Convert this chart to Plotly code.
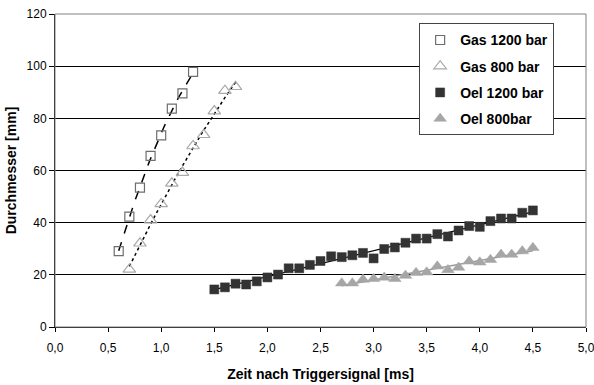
import numpy as np
import plotly.graph_objects as go

# ---- data ----
gas1200_x = [0.6, 0.7, 0.8, 0.9, 1.0, 1.1, 1.2, 1.3]
gas1200_y = [29.1, 42.3, 53.4, 65.6, 73.5, 83.7, 89.6, 97.8]

gas800_x = [0.7, 0.8, 0.9, 1.0, 1.1, 1.2, 1.3, 1.4, 1.5, 1.6, 1.7]
gas800_y = [22.1, 32.1, 41.0, 47.2, 55.1, 59.2, 69.4, 73.7, 82.8, 90.6, 92.1]

oel1200_x = [1.5, 1.6, 1.7, 1.8, 1.9, 2.0, 2.1, 2.2, 2.3, 2.4, 2.5, 2.6, 2.7, 2.8, 2.9, 3.0,
             3.1, 3.2, 3.3, 3.4, 3.5, 3.6, 3.7, 3.8, 3.9, 4.0, 4.1, 4.2, 4.3, 4.4, 4.5]
oel1200_y = [14.4, 15.2, 16.6, 16.3, 17.5, 19.0, 20.1, 22.5, 22.5, 23.8, 25.3, 27.1, 26.8, 27.5, 28.4, 26.3,
             29.9, 30.5, 32.3, 33.9, 33.9, 35.6, 34.7, 37.0, 38.7, 38.4, 40.6, 41.6, 41.6, 43.8, 44.7]

oel800_x = [2.7, 2.8, 2.9, 3.0, 3.1, 3.2, 3.3, 3.4, 3.5, 3.6, 3.7, 3.8, 3.9, 4.0, 4.1, 4.2, 4.3, 4.4, 4.5]
oel800_y = [16.8, 16.8, 18.2, 18.5, 19.0, 18.5, 19.7, 20.8, 21.0, 23.3, 21.9, 22.8, 25.2, 24.8, 25.8, 27.8,
            27.8, 29.1, 30.4]

x_ticks = [0.0, 0.5, 1.0, 1.5, 2.0, 2.5, 3.0, 3.5, 4.0, 4.5, 5.0]
x_ticklabels = ["0,0", "0,5", "1,0", "1,5", "2,0", "2,5", "3,0", "3,5", "4,0", "4,5", "5,0"]
y_ticks = [0, 20, 40, 60, 80, 100, 120]

FONT = "Liberation Sans, Arial, sans-serif"


def trend(xs, ys, deg):
    c = np.polyfit(xs, ys, deg)
    xx = np.linspace(min(xs), max(xs), 60)
    return xx, np.polyval(c, xx)


fig = go.Figure()

# trend lines (not in legend)
tx, ty = trend(gas1200_x, gas1200_y, 2)
fig.add_trace(go.Scatter(x=tx, y=ty, mode="lines", showlegend=False, hoverinfo="skip",
                         line=dict(color="black", width=1.5, dash="dash")))
tx, ty = trend(gas800_x, gas800_y, 2)
fig.add_trace(go.Scatter(x=tx, y=ty, mode="lines", showlegend=False, hoverinfo="skip",
                         line=dict(color="black", width=1.5, dash="dot")))
tx, ty = trend(oel1200_x, oel1200_y, 1)
fig.add_trace(go.Scatter(x=tx, y=ty, mode="lines", showlegend=False, hoverinfo="skip",
                         line=dict(color="black", width=1.2)))
tx, ty = trend(oel800_x, oel800_y, 1)
fig.add_trace(go.Scatter(x=tx, y=ty, mode="lines", showlegend=False, hoverinfo="skip",
                         line=dict(color="#999999", width=1.5)))

# markers
fig.add_trace(go.Scatter(x=gas1200_x, y=gas1200_y, mode="markers", name="Gas 1200 bar",
                         legendgroup="a",
                         marker=dict(symbol="square-open", size=9, color="#6e6e6e",
                                     line=dict(width=1.2, color="#6e6e6e"))))
fig.add_trace(go.Scatter(x=gas800_x, y=gas800_y, mode="markers", name="Gas 800 bar",
                         legendgroup="b",
                         marker=dict(symbol="triangle-up-open", size=11, color="#aaaaaa",
                                     line=dict(width=1.2, color="#aaaaaa"))))
fig.add_trace(go.Scatter(x=oel1200_x, y=oel1200_y, mode="markers", name="Oel 1200 bar",
                         legendgroup="c",
                         marker=dict(symbol="square", size=9, color="#333333",
                                     line=dict(width=0.5, color="#333333"))))
fig.add_trace(go.Scatter(x=oel800_x, y=oel800_y, mode="markers", name="Oel 800bar",
                         legendgroup="d",
                         marker=dict(symbol="triangle-up", size=11, color="#a6a6a6",
                                     line=dict(width=0.5, color="#a6a6a6"))))

fig.update_layout(
    width=594, height=385,
    margin=dict(l=55, r=8, t=14, b=58, autoexpand=False),
    paper_bgcolor="white", plot_bgcolor="white",
    font=dict(family=FONT, size=12, color="black"),
    showlegend=True,
    legend=dict(x=0.94, y=0.97, xanchor="right", yanchor="top",
                bgcolor="white", bordercolor="#444444", borderwidth=1,
                font=dict(family=FONT, size=14, color="black", weight="bold"),
                traceorder="grouped", tracegroupgap=5, itemwidth=30),
    shapes=[dict(type="rect", xref="paper", yref="paper", x0=0, y0=0, x1=1, y1=1,
                 line=dict(color="#808080", width=1), layer="above")],
)

fig.update_xaxes(range=[0, 5], tickvals=x_ticks, ticktext=x_ticklabels,
                 showgrid=False, zeroline=False, automargin=False,
                 showline=True, linecolor="black", linewidth=1,
                 ticks="outside", ticklen=4, tickcolor="black",
                 ticklabelstandoff=6, ticklabeloverflow="allow",
                 tickfont=dict(size=12, family=FONT),
                 title=dict(text="Zeit nach Triggersignal [ms]", standoff=14,
                            font=dict(size=14, family=FONT, weight="bold")))
fig.update_yaxes(range=[0, 120], tickvals=y_ticks,
                 showgrid=True, gridcolor="black", gridwidth=1, zeroline=False,
                 automargin=False,
                 showline=True, linecolor="black", linewidth=1,
                 ticks="outside", ticklen=5, tickcolor="black",
                 tickfont=dict(size=12, family=FONT),
                 title=dict(text="Durchmesser [mm]", standoff=6,
                            font=dict(size=14, family=FONT, weight="bold")))

fig.write_html("out.html")
